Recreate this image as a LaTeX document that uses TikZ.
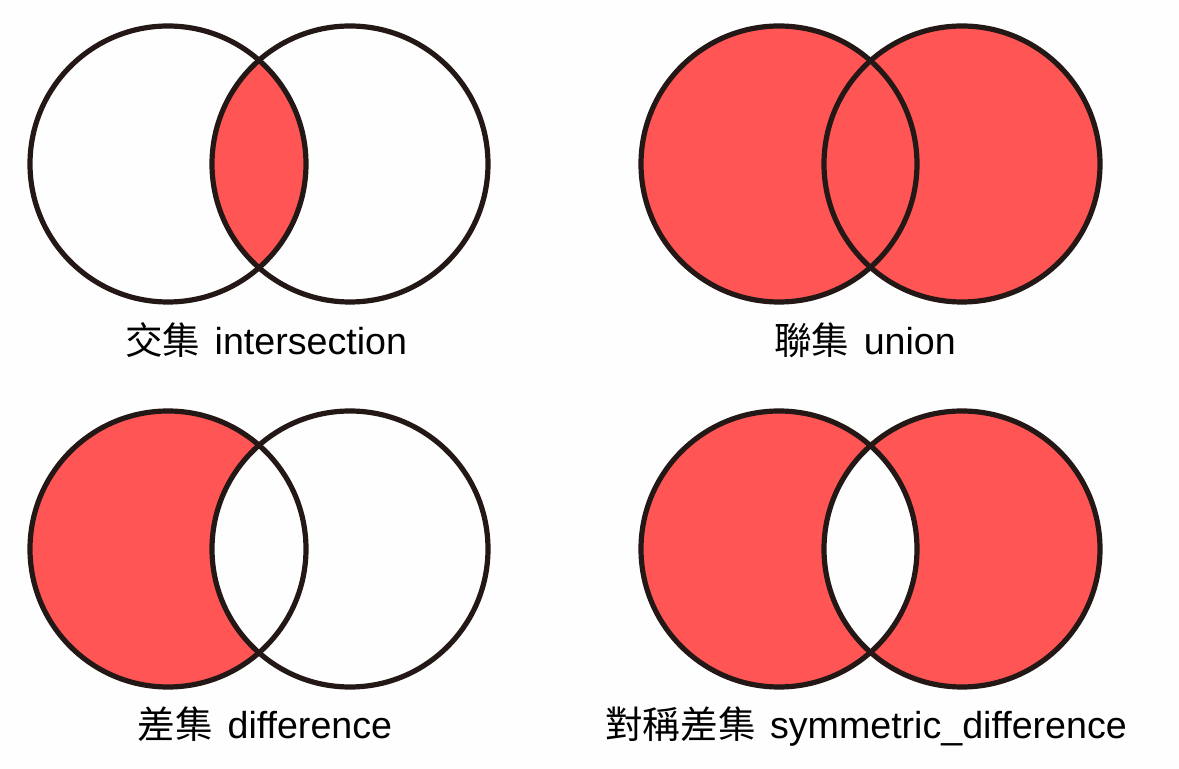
\documentclass[tikz,border=0pt]{standalone}
\usepackage{fontspec}
\setmainfont{Liberation Sans}
\newfontfamily\cjk{Noto Sans CJK TC}
\definecolor{setred}{HTML}{FF5555}
\definecolor{ink}{HTML}{231815}
\definecolor{paper}{HTML}{FEFEFE}

\begin{document}
\begin{tikzpicture}[
  x=0.5pt,y=-0.5pt,
  ring/.style={draw=ink,line width=2.6pt},
  lbl/.style={anchor=base,inner sep=0pt,font=\fontsize{18.8}{21}\selectfont}
]
\useasboundingbox[fill=paper] (0,0) rectangle (1179,769);
% circle centres
\coordinate (iA) at (168,164); \coordinate (iB) at (350,164);
\coordinate (uA) at (779,164); \coordinate (uB) at (962,164);
\coordinate (dA) at (168,549); \coordinate (dB) at (350,549);
\coordinate (sA) at (779,549); \coordinate (sB) at (962,549);

% intersection
\begin{scope}
  \clip (iA) circle[radius=69pt];
  \fill[setred] (iB) circle[radius=69pt];
\end{scope}
% union
\fill[setred] (uA) circle[radius=69pt] (uB) circle[radius=69pt];
% difference
\fill[setred] (dA) circle[radius=69pt];
\fill[paper] (dB) circle[radius=69pt];
% symmetric difference
\fill[setred,even odd rule] (sA) circle[radius=69pt] (sB) circle[radius=69pt];

\foreach \s in {i,u,d,s}{
  \draw[ring] (\s A) circle[radius=69pt];
  \draw[ring] (\s B) circle[radius=69pt];
}

\node[lbl] (tI) at (266,355) {{\cjk 交集}\hspace{2pt} intersection};
\node[lbl] (tU) at (865,355) {{\cjk 聯集}\hspace{2pt} union};
\node[lbl] (tD) at (265,739) {{\cjk 差集}\hspace{2pt} difference};
\node[lbl] (tS) at (866,739) {{\cjk 對稱差集}\hspace{2pt} symmetric\_difference};
\end{tikzpicture}
\end{document}
